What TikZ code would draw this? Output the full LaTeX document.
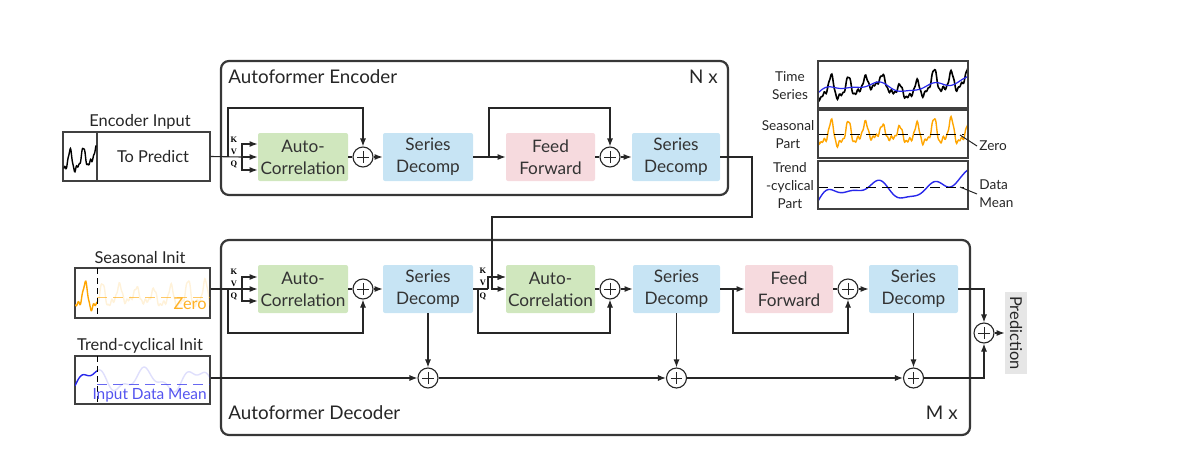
\documentclass[tikz,border=0pt]{standalone}
\usepackage{fontspec}
\usepackage{xcolor}
\setmainfont{Lato}
\newfontfamily\kvqfont{Liberation Serif}
\usetikzlibrary{arrows.meta}

\definecolor{CorrGreen}{RGB}{208,231,190}
\definecolor{DecompBlue}{RGB}{199,228,244}
\definecolor{FeedPink}{RGB}{246,218,222}
\definecolor{SeasonOrange}{RGB}{255,165,0}
\definecolor{TrendBlue}{RGB}{40,40,235}
\definecolor{FrameGray}{RGB}{55,55,55}
\definecolor{PredGray}{RGB}{230,230,230}

\newcommand{\headfont}{\fontsize{9.4}{11}\selectfont}
\newcommand{\blockfont}{\fontsize{8.6}{11}\selectfont}
\newcommand{\labelfont}{\fontsize{8.2}{10}\selectfont}
\newcommand{\legendfont}{\fontsize{6.8}{9}\selectfont}
\newcommand{\kvq}{\kvqfont\bfseries\fontsize{4.2}{5}\selectfont}

\begin{document}
\begin{tikzpicture}[x=0.5pt,y=0.5pt,yscale=-1,xscale=1,
	>={Latex[length=4pt,width=3pt]},
	wire/.style={draw=black!85, line width=0.55pt},
	block/.style={rounded corners=1pt, minimum width=45pt, minimum height=24pt, align=center, inner sep=1pt, font=\blockfont, text=black!80},
	plus/.style={circle, draw=black!85, line width=0.55pt, fill=white, minimum size=10pt, inner sep=0pt,
		path picture={\draw[line width=0.5pt] ([xshift=-2.8pt]path picture bounding box.center) -- ([xshift=2.8pt]path picture bounding box.center)
			([yshift=-2.8pt]path picture bounding box.center) -- ([yshift=2.8pt]path picture bounding box.center);}},
	frame/.style={draw=FrameGray, line width=1.1pt, rounded corners=4pt},
	inbox/.style={draw=black!75, line width=0.6pt, inner sep=0pt},
	kvqlabel/.style={inner sep=0pt, font=\kvq},
	declare function={seas(\x)=(1+0.3*sin(3.3*\x+40))*(8*sin(21*\x)+3.5*sin(42*\x+60))+1.5*sin(97*\x)+1.5*sin(5*\x);
		trnd(\x)=33-0.1*\x-5*sin(2.6*\x)-3*sin(7*\x+20)-1.2*sin(13*\x);}]
		\useasboundingbox (0,0) rectangle (1184,461);

		% Encoder and decoder frames
		\node[frame, minimum width=253.5pt, minimum height=67pt] (enc_frame) at (474.5,128) {};
		\node[frame, minimum width=374.5pt, minimum height=97.5pt] (dec_frame) at (595.5,337.5) {};
		\node[anchor=west, inner sep=0pt, font=\headfont, text=black!85] (enc_title) at (228,77) {Autoformer Encoder};
		\node[anchor=east, inner sep=0pt, font=\headfont, text=black!85] (enc_times) at (718,77) {N x};
		\node[anchor=west, inner sep=0pt, font=\headfont, text=black!85] (dec_title) at (228,413) {Autoformer Decoder};
		\node[anchor=east, inner sep=0pt, font=\headfont, text=black!85] (dec_times) at (958,413) {M x};

		% Encoder input
		\node[inbox, minimum width=73.5pt, minimum height=24.5pt] (enc_in) at (136.5,156.5) {};
		\draw[black!75, line width=0.6pt] (97,132) -- (97,181);
		\node[font=\labelfont, text=black!85] (enc_in_text) at (153,157) {To Predict};
		\node[font=\labelfont, text=black!85] (enc_in_title) at (140,122) {Encoder Input};
		\begin{scope}[shift={(63,132)}]
			\clip (0,0) rectangle (34,49);
			\draw[black, line width=0.7pt] plot[domain=1:33, samples=80] (\x, {31+0.9*seas(1.3*\x+4)-0.2*\x});
		\end{scope}

		% Seasonal init
		\node[inbox, minimum width=67.5pt, minimum height=25pt] (seas_init) at (142.5,293) {};
		\node[font=\labelfont, text=black!85] (seas_init_title) at (140,258) {Seasonal Init};
		\begin{scope}[shift={(75,268)}]
			\clip (0,0) rectangle (135,50);
			\draw[SeasonOrange, opacity=0.15, line width=0.7pt] plot[domain=22:135, samples=220] (\x, {29+1.1*seas(\x+3)});
			\draw[SeasonOrange, line width=0.7pt] plot[domain=0:22, samples=50] (\x, {29+1.1*seas(\x+3)});
			\draw[SeasonOrange, opacity=0.6, dash pattern=on 5pt off 3pt] (22,29) -- (135,29);
			\draw[black, dash pattern=on 3pt off 2pt] (22,0) -- (22,50);
		\end{scope}
		\node[anchor=east, inner sep=1pt, font=\labelfont, text=SeasonOrange!85] (seas_zero) at (209,304) {Zero};

		% Trend-cyclical init
		\node[inbox, minimum width=67.5pt, minimum height=24pt] (trend_init) at (142.5,380) {};
		\node[font=\labelfont, text=black!85] (trend_init_title) at (140,346) {Trend-cyclical Init};
		\begin{scope}[shift={(75,356)}]
			\clip (0,0) rectangle (135,48);
			\draw[TrendBlue, opacity=0.15, line width=0.7pt] plot[domain=22:135, samples=150] (\x, {24-9*sin(7*\x-40)-4*sin(17*\x)});
			\draw[TrendBlue, line width=0.7pt] plot[domain=0:22, samples=40] (\x, {24-9*sin(7*\x-40)-4*sin(17*\x)});
			\draw[TrendBlue, opacity=0.7, dash pattern=on 5pt off 3pt] (22,28) -- (135,28);
			\draw[black, dash pattern=on 3pt off 2pt] (22,0) -- (22,48);
		\end{scope}
		\node[anchor=east, inner sep=1pt, font=\fontsize{7.7}{9}\selectfont, text=TrendBlue!80] (trend_mean) at (209,395) {Input Data Mean};

		% Encoder blocks
		\node[block, fill=CorrGreen] (enc_corr) at (303,157) {Auto-\\Correlation};
		\node[plus] (enc_plus1) at (363,157) {};
		\node[block, fill=DecompBlue] (enc_dec1) at (428,157) {Series\\Decomp};
		\node[block, fill=FeedPink, minimum width=44.5pt] (enc_ff) at (550.5,157) {Feed\\Forward};
		\node[plus] (enc_plus2) at (610,157) {};
		\node[block, fill=DecompBlue, minimum width=44pt] (enc_dec2) at (676,157) {Series\\Decomp};

		% Decoder blocks
		\node[block, fill=CorrGreen] (dec_corr1) at (303,289) {Auto-\\Correlation};
		\node[plus] (dec_plus1) at (363,289) {};
		\node[block, fill=DecompBlue] (dec_dec1) at (428,289) {Series\\Decomp};
		\node[block, fill=CorrGreen, minimum width=44.5pt] (dec_corr2) at (550.5,289) {Auto-\\Correlation};
		\node[plus] (dec_plus2) at (610,289) {};
		\node[block, fill=DecompBlue, minimum width=43.5pt] (dec_dec2) at (676.5,289) {Series\\Decomp};
		\node[block, fill=FeedPink, minimum width=44pt] (dec_ff) at (789,289) {Feed\\Forward};
		\node[plus] (dec_plus3) at (848,289) {};
		\node[block, fill=DecompBlue, minimum width=44.5pt] (dec_dec3) at (913.5,289) {Series\\Decomp};
		\node[plus] (trend_plus1) at (428,378) {};
		\node[plus] (trend_plus2) at (676.5,378) {};
		\node[plus] (trend_plus3) at (913.5,378) {};
		\node[plus] (out_plus) at (984,333) {};
		\node[fill=PredGray, rotate=-90, font=\labelfont, text=black!85, inner sep=2pt, minimum height=11pt] (pred) at (1016,333) {Prediction};

		% Split points
		\coordinate (enc_split) at (242,157);
		\coordinate (enc_skip1) at (228,157);
		\coordinate (enc_skip2) at (489,157);
		\coordinate (enc_out) at (752,217);
		\coordinate (cross_v) at (492,289);
		\coordinate (cross_k) at (492,277);
		\coordinate (dec_split1) at (242,289);
		\coordinate (dec_skip1) at (228,289);
		\coordinate (dec_split2) at (488,289);
		\coordinate (dec_skip2) at (478,289);
		\coordinate (dec_skip3) at (733,289);

		% Encoder connections
		\draw[wire] (enc_in.east) -- (enc_split);
		\draw[wire,->] (enc_split) |- ([yshift=6.5pt]enc_corr.west);
		\draw[wire,->] (enc_split) -- (enc_corr.west);
		\draw[wire,->] (enc_split) |- ([yshift=-6.5pt]enc_corr.west);
		\draw[wire,->] (enc_skip1) -- ++(0,-49) -| (enc_plus1.north);
		\draw[wire] (enc_corr) -- (enc_plus1);
		\draw[wire,->] (enc_plus1) -- (enc_dec1);
		\draw[wire,->] (enc_dec1) -- (enc_ff);
		\draw[wire,->] (enc_skip2) -- ++(0,-49) -| (enc_plus2.north);
		\draw[wire] (enc_ff) -- (enc_plus2);
		\draw[wire,->] (enc_plus2) -- (enc_dec2);
		\node[kvqlabel] (enc_k) at (234,140) {K};
		\node[kvqlabel] (enc_v) at (234,152) {V};
		\node[kvqlabel] (enc_q) at (234,164) {Q};

		% Encoder to decoder
		\draw[wire,->] (enc_dec2.east) -| (enc_out) -| (cross_v) -- (dec_corr2.west);
		\draw[wire,->] (cross_k) -- (cross_k -| dec_corr2.west);

		% Decoder connections
		\draw[wire] (seas_init.east |- dec_split1) -- (dec_split1);
		\draw[wire,->] (dec_split1) |- ([yshift=6pt]dec_corr1.west);
		\draw[wire,->] (dec_split1) -- (dec_corr1.west);
		\draw[wire,->] (dec_split1) |- ([yshift=-6pt]dec_corr1.west);
		\draw[wire,->] (dec_skip1) -- ++(0,44) -| (dec_plus1.south);
		\draw[wire] (dec_corr1) -- (dec_plus1);
		\draw[wire,->] (dec_plus1) -- (dec_dec1);
		\draw[wire] (dec_dec1) -- (dec_split2);
		\draw[wire,->] (dec_split2) |- ([yshift=-6pt]dec_corr2.west);
		\draw[wire,->] (dec_skip2) -- ++(0,44) -| (dec_plus2.south);
		\draw[wire] (dec_corr2) -- (dec_plus2);
		\draw[wire,->] (dec_plus2) -- (dec_dec2);
		\draw[wire,->] (dec_dec2) -- (dec_ff);
		\draw[wire,->] (dec_skip3) -- ++(0,44) -| (dec_plus3.south);
		\draw[wire] (dec_ff) -- (dec_plus3);
		\draw[wire,->] (dec_plus3) -- (dec_dec3);
		\draw[wire,->] (dec_dec3.east) -| (out_plus.north);
		\node[kvqlabel] (dec_k1) at (234,272) {K};
		\node[kvqlabel] (dec_v1) at (234,284) {V};
		\node[kvqlabel] (dec_q1) at (234,296) {Q};
		\node[kvqlabel] (dec_k2) at (483,271) {K};
		\node[kvqlabel] (dec_v2) at (483,283) {V};
		\node[kvqlabel] (dec_q2) at (483,296) {Q};

		% Trend path
		\draw[wire,->] (dec_dec1) -- (trend_plus1);
		\draw[wire,->] (dec_dec2) -- (trend_plus2);
		\draw[wire,->] (dec_dec3) -- (trend_plus3);
		\draw[wire,->] (trend_init.east |- trend_plus1) -- (trend_plus1);
		\draw[wire,->] (trend_plus1) -- (trend_plus2);
		\draw[wire,->] (trend_plus2) -- (trend_plus3);
		\draw[wire,->] (trend_plus3) -| (out_plus.south);
		\draw[wire,->] (out_plus) -- (pred.south);

		% Legend: time series
		\begin{scope}[shift={(818,61)}]
			\clip (0,0) rectangle (150,47);
			\draw[black, line width=0.8pt] plot[domain=0:150, samples=240] (\x, {trnd(\x)+0.9*seas(\x)});
			\draw[TrendBlue, line width=0.6pt] plot[domain=0:150, samples=120] (\x, {trnd(\x)});
		\end{scope}
		\draw[black!75, line width=0.6pt] (818,61) rectangle (968,108);
		\node[align=center, font=\legendfont, text=black!85] (leg_ts) at (790,86) {Time\\Series};

		% Legend: seasonal part
		\begin{scope}[shift={(818,110)}]
			\clip (0,0) rectangle (150,48);
			\draw[SeasonOrange, line width=0.7pt] plot[domain=0:150, samples=240] (\x, {24+1.05*seas(\x)});
			\draw[black, dash pattern=on 5pt off 3pt] (0,24) -- (146,24);
		\end{scope}
		\draw[black!75, line width=0.6pt] (818,110) rectangle (968,158);
		\node[align=center, font=\legendfont, text=black!85] (leg_seas) at (788,135) {Seasonal\\Part};
		\node[anchor=west, inner sep=1pt, font=\legendfont, text=black!85] (leg_zero) at (977,146) {Zero};
		\draw[black!85, line width=0.5pt] (leg_zero.west) -- (960,135);

		% Legend: trend-cyclical part
		\begin{scope}[shift={(818,161)}]
			\clip (0,0) rectangle (150,48);
			\draw[TrendBlue, line width=0.7pt] plot[domain=0:150, samples=150] (\x, {26+1.9*(trnd(\x)-24.5)});
			\draw[black, dash pattern=on 5pt off 3pt] (0,26) -- (146,26);
		\end{scope}
		\draw[black!75, line width=0.6pt] (818,161) rectangle (968,209);
		\node[align=center, font=\legendfont, text=black!85] (leg_trend) at (790,186) {Trend\\-cyclical\\Part};
		\node[anchor=west, align=left, inner sep=1pt, font=\legendfont, text=black!85] (leg_mean) at (977,194) {Data\\Mean};
		\draw[black!85, line width=0.5pt] (leg_mean.west) -- (960,187);
	\end{tikzpicture}
\end{document}
